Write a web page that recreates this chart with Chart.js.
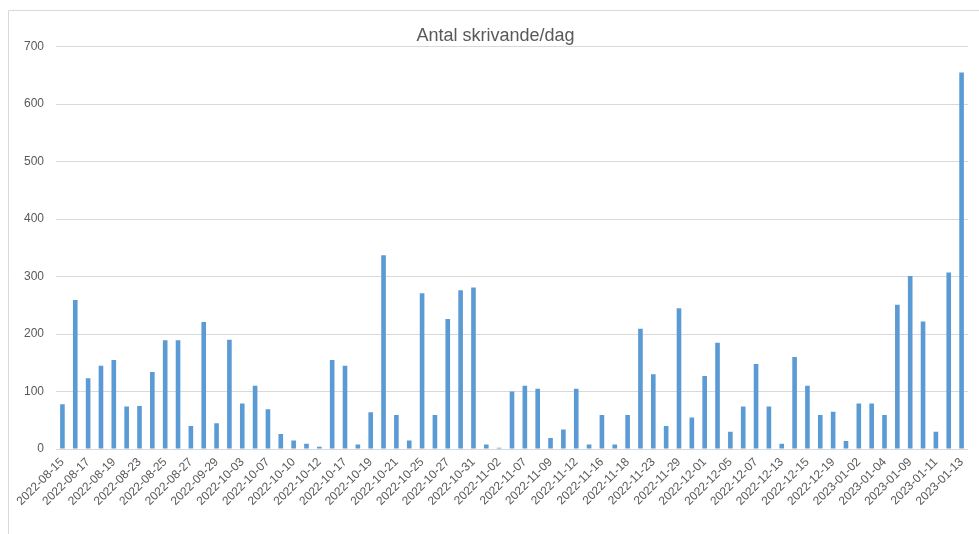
<!DOCTYPE html>
<html>
<head>
<meta charset="utf-8">
<script src="https://cdn.jsdelivr.net/npm/chart.js@4"></script>
<style>
  html, body { margin: 0; padding: 0; background: #fff; }
  #wrap { position: relative; width: 979px; height: 534px; }
</style>
</head>
<body>
<div id="wrap"><canvas id="chart"></canvas></div>
<script>
// dates (every other one is printed on the axis)
const days = [
  "2022-08-15", "2022-08-16", "2022-08-17", "2022-08-18", "2022-08-19", "2022-08-22",
  "2022-08-23", "2022-08-24", "2022-08-25", "2022-08-26", "2022-08-27", "2022-09-28",
  "2022-09-29", "2022-09-30", "2022-10-03", "2022-10-04", "2022-10-07", "2022-10-09",
  "2022-10-10", "2022-10-11", "2022-10-12", "2022-10-16", "2022-10-17", "2022-10-18",
  "2022-10-19", "2022-10-20", "2022-10-21", "2022-10-24", "2022-10-25", "2022-10-26",
  "2022-10-27", "2022-10-28", "2022-10-31", "2022-11-01", "2022-11-02", "2022-11-03",
  "2022-11-07", "2022-11-08", "2022-11-09", "2022-11-10", "2022-11-12", "2022-11-15",
  "2022-11-16", "2022-11-17", "2022-11-18", "2022-11-22", "2022-11-23", "2022-11-28",
  "2022-11-29", "2022-11-30", "2022-12-01", "2022-12-02", "2022-12-05", "2022-12-06",
  "2022-12-07", "2022-12-12", "2022-12-13", "2022-12-14", "2022-12-15", "2022-12-16",
  "2022-12-19", "2022-12-20", "2023-01-02", "2023-01-03", "2023-01-04", "2023-01-05",
  "2023-01-09", "2023-01-10", "2023-01-11", "2023-01-12", "2023-01-13"
];

const writers = [
  78, 259, 123, 145, 155, 74, 75, 134, 189, 189, 40, 221,
  45, 190, 79, 110, 69, 26, 15, 9, 4, 155, 145, 8,
  64, 337, 59, 15, 271, 59, 226, 276, 281, 8, 2, 100,
  110, 105, 19, 34, 105, 8, 59, 8, 59, 209, 130, 40,
  245, 55, 127, 185, 30, 74, 148, 74, 9, 160, 110, 59,
  65, 14, 79, 79, 59, 251, 301, 222, 30, 307, 655
];

const yTicks = { min: 0, max: 700, step: 100 };

const frame = {
  id: "frame",
  beforeDraw(chart) {
    const ctx = chart.ctx;
    ctx.save();
    ctx.strokeStyle = "#d9d9d9";
    ctx.lineWidth = 1;
    ctx.beginPath();
    ctx.moveTo(8.5, chart.height);
    ctx.lineTo(8.5, 10.5);
    ctx.lineTo(chart.width, 10.5);
    ctx.stroke();
    ctx.restore();
  }
};

new Chart(document.getElementById("chart"), {
  type: "bar",
  data: {
    labels: days,
    datasets: [{
      label: "Antal skrivande",
      data: writers,
      backgroundColor: "#5b9bd5",
      barPercentage: 0.36,
      categoryPercentage: 1
    }]
  },
  options: {
    responsive: true,
    maintainAspectRatio: false,
    animation: false,
    layout: { padding: { left: 23, right: 11, top: 0, bottom: 0 } },
    plugins: {
      legend: { display: false },
      tooltip: { enabled: false },
      title: {
        display: true,
        text: "Antal skrivande/dag",
        color: "#595959",
        font: { family: "Liberation Sans", size: 18, weight: "normal" },
        padding: { top: 25, bottom: 0 }
      }
    },
    scales: {
      x: {
        grid: { display: false, drawTicks: false },
        border: { display: false },
        afterFit: (s) => { s.height = 85; },
        ticks: {
          autoSkip: false,
          minRotation: 45,
          maxRotation: 45,
          padding: 6,
          color: "#595959",
          font: { family: "Liberation Sans", size: 12 },
          callback: function (val, i) {
            return i % 2 === 0 ? this.getLabelForValue(val) : "";
          }
        }
      },
      y: {
        min: yTicks.min,
        max: yTicks.max,
        afterFit: (s) => { s.width = 33; },
        grid: { color: "#d9d9d9", drawTicks: false },
        border: { display: false },
        ticks: {
          stepSize: yTicks.step,
          padding: 12,
          color: "#595959",
          font: { family: "Liberation Sans", size: 12 }
        }
      }
    }
  },
  plugins: [frame]
});
</script>
</body>
</html>
